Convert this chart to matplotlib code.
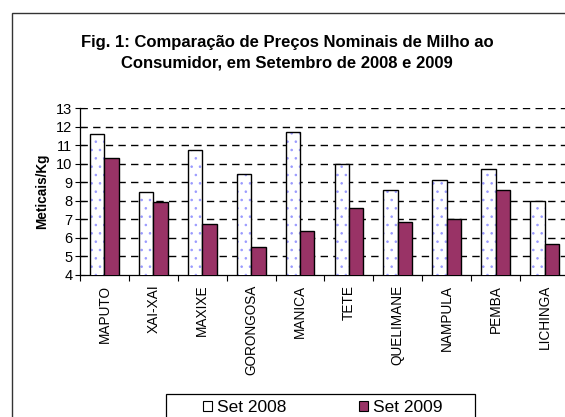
import matplotlib
matplotlib.use("Agg")
import matplotlib.pyplot as plt
import numpy as np
from matplotlib.patches import Rectangle, Patch

plt.rcParams['font.family'] = ['Liberation Sans', 'DejaVu Sans']

categories = ["MAPUTO", "XAI-XAI", "MAXIXE", "GORONGOSA", "MANICA", "TETE",
              "QUELIMANE", "NAMPULA", "PEMBA", "LICHINGA"]
set2008 = [11.6, 8.46, 10.77, 9.47, 11.7, 10.0, 8.59, 9.13, 9.71, 8.0]
set2009 = [10.3, 7.92, 6.75, 5.51, 6.39, 7.63, 6.88, 7.0, 8.59, 5.67]
yticks = list(range(4, 14))
series_labels = ["Set 2008", "Set 2009"]

W, H = 565, 417
fig = plt.figure(figsize=(W / 100, H / 100), dpi=100)
ax = fig.add_axes([80 / W, 1 - 275 / H, 489 / W, (275 - 108.3) / H])

x = np.arange(len(categories))
bw = 0.295
plt.rcParams['hatch.linewidth'] = 0.6
ax.bar(x - bw / 2, set2008, bw, color='white', edgecolor='#9999ff',
       hatch='..', linewidth=0, zorder=3)
ax.bar(x - bw / 2, set2008, bw, color='none', edgecolor='black', linewidth=1.0, zorder=4)
ax.bar(x + bw / 2, set2009, bw, color='#993366', edgecolor='black', linewidth=1.0, zorder=4)

ax.set_ylim(4, 13)
ax.set_xlim(-0.5, len(categories) - 0.5)
ax.set_yticks(yticks)
ax.set_yticklabels([str(t) for t in yticks], fontsize=10.5)
for t in yticks[1:]:
    ax.axhline(t, color='black', lw=1.0, linestyle=(0, (5.3, 3.8)), zorder=1)

ax.set_xticks(x)
ax.set_xticklabels(categories, rotation=90, fontsize=9.8, va='top')
ax.tick_params(axis='x', which='major', length=0, pad=7)
ax.set_xticks(np.arange(len(categories) + 1) - 0.5, minor=True)
ax.tick_params(axis='x', which='minor', length=4, width=0.8, direction='out')
ax.tick_params(axis='y', length=7, width=0.8, direction='inout', pad=2)

for s in ['top', 'right']:
    ax.spines[s].set_visible(False)
for s in ['left', 'bottom']:
    ax.spines[s].set_linewidth(0.9)

ax.set_ylabel("Meticais/Kg", fontsize=9.8, fontweight='bold', labelpad=5)

fig.text(287 / W, 1 - 52.5 / H,
         "Fig. 1: Comparação de Preços Nominais de Milho ao\nConsumidor, em Setembro de 2008 e 2009",
         ha='center', va='center', fontsize=12, fontweight='bold', linespacing=1.5)

# outer border
fig.add_artist(Rectangle((12 / W, -0.2), 1.5, 1.2 - 13 / H, transform=fig.transFigure,
                         fill=False, edgecolor='#333333', linewidth=1.0))

# legend frame
fig.add_artist(Rectangle((166 / W, -0.2), (475 - 166) / W, 0.2 + 1 - 394 / H,
                         transform=fig.transFigure, fill=False,
                         edgecolor='black', linewidth=0.9))
handles = [Patch(facecolor='white', edgecolor='black', linewidth=0.8),
           Patch(facecolor='#993366', edgecolor='black', linewidth=0.8)]
leg = fig.legend(handles, series_labels, loc='center left',
                 bbox_to_anchor=(203 / W, 1 - 407.5 / H), ncol=2, fontsize=12.5,
                 handlelength=0.5, handleheight=0.55, handletextpad=0.3,
                 columnspacing=4.2, borderpad=0, frameon=False,
                 borderaxespad=0)

fig.savefig("out.png", dpi=100)
